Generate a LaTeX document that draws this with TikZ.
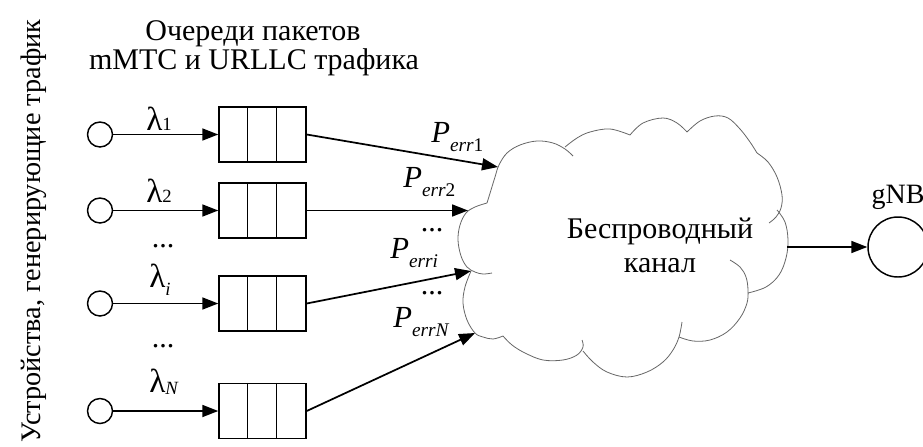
\documentclass[tikz,border=0pt]{standalone}
\usepackage{fontspec}
\setmainfont{Liberation Serif}
\usetikzlibrary{arrows.meta}
% lowered subscript for the arrival rates
\newcommand\lsub[2][2pt]{\raisebox{-#1}{\fontsize{14}{14}\selectfont #2}}
% error probability label P_err<index>
\newcommand\perr[1]{\textit{P}\raisebox{-7pt}{\fontsize{14.5}{14.5}\selectfont\textit{err}#1}}

\begin{document}
\begin{tikzpicture}[x=0.75pt,y=-0.75pt,
  src/.style={circle,draw,line width=1.1pt,minimum size=18.75pt,inner sep=0pt},
  bs/.style={circle,draw,line width=1.1pt,minimum size=45pt,inner sep=0pt},
  queue/.style={draw,line width=1.1pt,minimum width=65.25pt,minimum height=41.25pt,inner sep=0pt},
  link/.style={line width=1.3pt,-{Triangle[length=12pt,width=9pt]}},
  rim/.style={draw=black!60,line width=0.6pt},
  txt/.style={inner sep=0pt,anchor=base,font=\fontsize{22.5}{27}\selectfont},
  lbl/.style={inner sep=0pt,anchor=base west,font=\fontsize{25}{28}\selectfont},
  plbl/.style={inner sep=0pt,anchor=base west,font=\fontsize{23}{27}\selectfont}]
\useasboundingbox (0,0) rectangle (923,446);

% captions
\node[txt,rotate=90,font=\fontsize{21.2}{25}\selectfont] (devices) at (40,231) {Устройства, генерирующие трафик};
\node[txt] (head1) at (253,40) {Очереди пакетов};
\node[txt] (head2) at (254,69) {mMTC и URLLC трафика};

% traffic sources and their queues
\foreach \r/\y in {1/134.5, 2/210.5, i/303.5, N/411}{
  \node[src] (s\r) at (100,\y) {};
  \node[queue] (q\r) at (262.5,\y) {};
  \draw[line width=1.1pt] ([xshift=21.75pt]q\r.north west) -- ([xshift=21.75pt]q\r.south west)
                          ([xshift=43.5pt]q\r.north west) -- ([xshift=43.5pt]q\r.south west);
  \draw[link] (s\r) -- (q\r);
}

% arrival rates
\node[lbl] (l1) at (146,130) {λ\lsub[0pt]{1}};
\node[lbl] (l2) at (146,202) {λ\lsub[0pt]{2}};
\node[txt] (ld1) at (163,247) {...};
\node[lbl] (li) at (149,287) {λ\lsub[6pt]{\textit{i}}};
\node[txt] (ld2) at (163,347) {...};
\node[lbl] (lN) at (149,392) {λ\lsub[2pt]{\textit{N}}};

% wireless channel outline
\draw[rim] plot[smooth,tension=0.6] coordinates {(487,203) (475,207) (466,213) (460,225) (458,240) (461,256) (467,267) (475,272) (483,274) (492,273)};
\draw[rim] plot[smooth,tension=0.6] coordinates {(471,271) (465,287) (463,303) (467,320) (475,333) (483,337) (493,339) (503,336)};
\draw[rim] plot[smooth,tension=0.6] coordinates {(503,336) (512,345) (525,353) (543,360) (563,360) (577,355) (583,347) (582,340)};
\draw[rim] plot[smooth,tension=0.6] coordinates {(583,351) (593,362) (607,372) (627,377) (647,372) (663,362) (673,350) (679,337) (682,322)};
\draw[rim] plot[smooth,tension=0.6] coordinates {(679,337) (693,341) (710,340) (727,332) (740,318) (747,303) (748,290) (746,277) (740,267) (730,260)};
\draw[rim] plot[smooth,tension=0.6] coordinates {(777,210) (785,222) (788,240) (786,258) (779,275) (766,287) (748,293)};
\draw[rim] plot[smooth,tension=0.6] coordinates {(757,153) (768,162) (777,177) (782,195) (781,208) (776,217) (769,223)};
\draw[rim] plot[smooth,tension=0.6] coordinates {(687,132) (700,121) (715,116) (728,118) (740,129) (750,142) (757,153)};
\draw[rim] plot[smooth,tension=0.6] coordinates {(630,135) (643,123) (663,118) (677,123) (687,132)};
\draw[rim] plot[smooth,tension=0.6] coordinates {(565,147) (577,138) (590,132) (610,129) (630,135)};
\draw[rim] plot[smooth,tension=0.6] coordinates {(487,203) (491,190) (495,177) (499,165) (507,153) (520,145) (537,141) (553,143) (565,149) (573,156)};

\coordinate (c1) at (498,167);
\coordinate (c2) at (468,210.5);
\coordinate (ci) at (471,271);
\coordinate (cN) at (475,333);
\coordinate (co) at (787,247);

\node[txt] (chan1) at (660,238) {Беспроводный};
\node[txt] (chan2) at (660,272) {канал};

% queues to channel
\draw[link] (q1.east) -- (c1);
\draw[link] (q2.east) -- (c2);
\draw[link] (qi.east) -- (ci);
\draw[link] (qN.east) -- (cN);

% error probabilities
\node[plbl] (p1) at (431,142) {\perr{1}};
\node[plbl] (p2) at (403,187) {\perr{2}};
\node[txt] (pd1) at (432,231) {...};
\node[plbl] (pi) at (390,258) {\perr{\textit{i}}};
\node[txt] (pd2) at (432,294) {...};
\node[plbl] (pN) at (393,327) {\perr{\textit{N}}};

% base station
\node[bs] (gnb) at (898,247) {};
\node[txt,font=\fontsize{21}{25}\selectfont] (gnbl) at (898,203) {gNB};
\draw[link] (co) -- (gnb);
\end{tikzpicture}
\end{document}
